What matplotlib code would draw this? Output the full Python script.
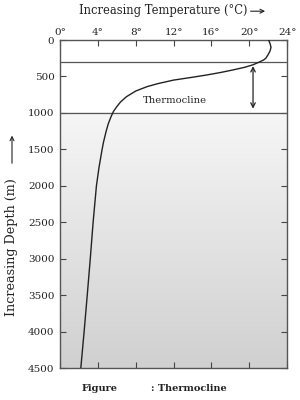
import numpy as np
import matplotlib
matplotlib.use("Agg")
import matplotlib.pyplot as plt
from matplotlib.colors import LinearSegmentedColormap
from matplotlib.patches import FancyArrowPatch

# ---- data ----
depth_m = [0, 50, 100, 150, 200, 250, 275, 300, 340, 375, 410, 445, 480, 515,
           550, 600, 640, 700, 780, 850, 915, 980, 1050, 1150, 1250, 1400, 1500,
           1750, 2000, 2500, 3000, 3500, 4000, 4500]
temp_c = [22.05, 22.2, 22.3, 22.2, 22.0, 21.75, 21.5, 21.1, 20.4, 19.5, 18.3,
          17.0, 15.5, 13.8, 12.0, 10.3, 9.2, 8.0, 7.0, 6.4, 6.0, 5.65, 5.4, 5.1,
          4.88, 4.6, 4.45, 4.12, 3.85, 3.5, 3.2, 2.88, 2.55, 2.2]
layer_top = 300
layer_bottom = 1000
x_ticks = [0, 4, 8, 12, 16, 20, 24]
x_tick_labels = ["0°", "4°", "8°", "12°", "16°", "20°", "24°"]
y_ticks = [0, 500, 1000, 1500, 2000, 2500, 3000, 3500, 4000, 4500]
label_text = "Thermocline"

serif = ["DejaVu Serif", "DejaVu Sans"]
plt.rcParams["font.family"] = serif

fig = plt.figure(figsize=(3, 4), dpi=100)
ax = fig.add_axes([0.2, 0.08, 0.757, 0.82])
ax.set_xlim(0, 24)
ax.set_ylim(4500, 0)

# gradient background below thermocline
cmap = LinearSegmentedColormap.from_list("g", ["#f6f6f6", "#d0d0d0"])
grad = np.linspace(0, 1, 256).reshape(-1, 1)
ax.imshow(grad, cmap=cmap, aspect="auto", extent=(0, 24, 4500, layer_bottom),
          zorder=0, interpolation="bilinear")

ax.plot(temp_c, depth_m, color="#222222", lw=1.0, zorder=3,
        solid_joinstyle="round")
ax.axhline(layer_top, color="#555555", lw=0.9, zorder=2)
ax.axhline(layer_bottom, color="#555555", lw=0.9, zorder=2)
ax.annotate("", xy=(20.4, layer_top + 20), xytext=(20.4, layer_bottom - 20),
            arrowprops=dict(arrowstyle="<->", color="#222222", lw=0.9,
                            mutation_scale=8), zorder=4)
ax.text(12.1, 830, label_text, ha="center", va="center", fontsize=7.2,
        color="#222222")

ax.xaxis.set_ticks_position("both")
ax.xaxis.set_label_position("top")
ax.set_xticks(x_ticks)
ax.set_xticklabels(x_tick_labels)
ax.tick_params(axis="x", which="both", top=True, bottom=True, labeltop=True,
               labelbottom=False, direction="in", length=4, width=0.8,
               color="#444444", labelsize=7.5, pad=2, labelcolor="#222222")
ax.set_yticks(y_ticks)
ax.set_yticklabels([str(v) for v in y_ticks])
ax.yaxis.set_ticks_position("both")
ax.tick_params(axis="y", which="both", left=True, right=True, direction="in",
               length=4, width=0.8, color="#444444", labelsize=7.5, pad=4,
               labelcolor="#222222")
for s in ax.spines.values():
    s.set_color("#555555")
    s.set_linewidth(1.0)

# axis titles with arrows
fig.text(0.263, 0.974, "Increasing Temperature (°C)", ha="left", va="center",
         fontsize=8.3, color="#222222")
fig.add_artist(FancyArrowPatch(
    (0.826, 0.972), (0.893, 0.972), transform=fig.transFigure,
    arrowstyle="->", mutation_scale=7, color="#222222", lw=0.8))
fig.text(0.04, 0.383, "Increasing Depth (m)", ha="center", va="center",
         rotation=90, fontsize=9.2, color="#222222")
fig.add_artist(FancyArrowPatch(
    (0.04, 0.585), (0.04, 0.668), transform=fig.transFigure,
    arrowstyle="->", mutation_scale=7, color="#222222", lw=0.8))

fig.text(0.273, 0.028, "Figure", ha="left", va="center", fontsize=7,
         fontweight="bold", color="#222222")
fig.text(0.503, 0.028, ": Thermocline", ha="left", va="center", fontsize=7,
         fontweight="bold", color="#222222")

fig.savefig("out.png", dpi=100, facecolor="white")
